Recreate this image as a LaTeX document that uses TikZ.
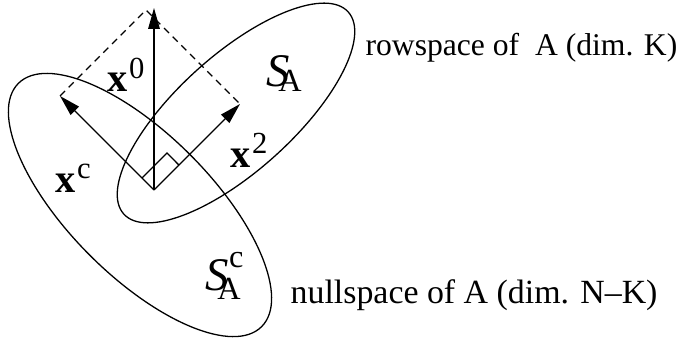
\documentclass[tikz,border=0pt]{standalone}
\usepackage{fontspec}
\setmainfont{Liberation Serif}
\usepackage{tikz}
\usetikzlibrary{calc, arrows.meta, positioning}

\newcommand{\vecx}[1]{\textbf{x}\kern0.4pt\raisebox{4.2pt}{\fontsize{9.5}{10}\selectfont #1}}
\newcommand{\spc}[3]{{\fontsize{14.5}{16}\selectfont\textit{S}}\kern-3.6pt\rlap{\raisebox{-#3}{#1}}\kern3.6pt\raisebox{7pt}{#2}}

\begin{document}
\begin{tikzpicture}[
    x=0.31pt, y=0.31pt,
    line width=0.4pt,
    vec/.style={-{Triangle[length=6.5pt, width=3.6pt]}},
    proj/.style={dash pattern=on 2.2pt off 1.6pt},
    region/.style={draw=black},
    mlabel/.style={inner sep=0pt, anchor=base west, font=\fontsize{12.5}{14}\selectfont},
    slabel/.style={inner sep=0pt, anchor=base west, font=\fontsize{10}{12}\selectfont},
    tlabel/.style={inner sep=0pt, anchor=base west, font=\fontsize{10.5}{12}\selectfont}
]
    \useasboundingbox (0,0) rectangle (688,345);

    % the two subspaces
    \draw [region, shift={(236,232)}, rotate=42] (0,0) ellipse [x radius=151, y radius=58];
    \draw [region, shift={(140,140)}, rotate=-45] (0,0) ellipse [x radius=172, y radius=71];

    \coordinate (orig) at (154,155);
    \coordinate (xc) at (60,249);
    \coordinate (xtwo) at (240,241);
    \coordinate (top) at (146,335);
    \coordinate (xzero) at (154,337);

    \draw [vec] (orig) -- (xzero);
    \draw [vec] (orig) -- (xc);
    \draw [vec] (orig) -- (xtwo);
    \draw [proj] (xc) -- (top) -- (xtwo);

    % right angle mark
    \draw ($(orig)!0.128!(xc)$) coordinate (ra1) -- ++(25,25) coordinate (ra2) -- ($(orig)!0.29!(xtwo)$);

    \node [mlabel] (lzero) at (107,253) {\vecx{0}};
    \node [mlabel] (ltwo) at (230,178) {\vecx{2}};
    \node [mlabel] (lc) at (55,153) {\vecx{c}};
    \node [slabel] (sa) at (266,258) {\spc{A}{}{1.5pt}};
    \node [slabel] (sac) at (205,55) {\spc{A}{c}{3pt}};

    \node [tlabel, font=\fontsize{9.8}{12}\selectfont] (row) at (365,289) {rowspace of\ \ A (dim. K)};
    \node [tlabel] (null) at (290,42) {nullspace of A (dim. N\textendash K)};

\end{tikzpicture}
\end{document}
